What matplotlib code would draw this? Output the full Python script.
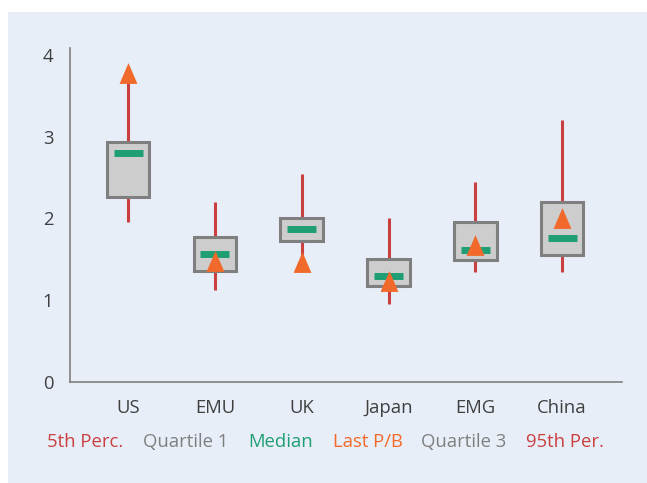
import matplotlib.pyplot as plt
from matplotlib.patches import Rectangle

plt.rcParams["font.family"] = ["Open Sans", "DejaVu Sans"]

regions = ["US", "EMU", "UK", "Japan", "EMG", "China"]
perc5 = [1.96, 1.12, 1.50, 0.95, 1.34, 1.34]
quartile1 = [2.26, 1.36, 1.72, 1.17, 1.49, 1.55]
median = [2.80, 1.57, 1.87, 1.30, 1.62, 1.76]
quartile3 = [2.94, 1.77, 2.01, 1.50, 1.96, 2.20]
perc95 = [3.78, 2.20, 2.55, 2.01, 2.45, 3.20]
last_pb = [3.78, 1.48, 1.47, 1.24, 1.68, 2.01]

legend_labels = ["5th Perc.", "Quartile 1", "Median", "Last P/B", "Quartile 3", "95th Per."]

red = "#C9403F"
gray = "#7F7F7F"
green = "#1F9E74"
orange = "#F26A2B"
bg = "#E8EEF8"

W, H = 647, 483
fig = plt.figure(figsize=(W / 100, H / 100), dpi=100)
fig.patches.append(Rectangle((8 / W, 0), 1 - 8 / W, 1 - 12 / H, transform=fig.transFigure,
                             facecolor=bg, edgecolor="none", zorder=-10))

ax = fig.add_axes([70 / W, 1 - 382 / H, 552 / W, 334 / H])
ax.set_facecolor("none")

x = list(range(len(regions)))
ax.vlines(x, perc5, perc95, color=red, lw=2.2, zorder=1)
heights = [q3 - q1 for q1, q3 in zip(quartile1, quartile3)]
ax.bar(x, heights, bottom=quartile1, width=0.49, facecolor="#CDCDCD",
       edgecolor=gray, lw=2.2, zorder=2)
ax.hlines(median, [i - 0.167 for i in x], [i + 0.167 for i in x], color=green,
          lw=5, capstyle="butt", zorder=3)
tri = [(-0.43, -0.5), (0.43, -0.5), (0, 0.5)]
ax.plot(x, last_pb, ls="none", marker=tri, ms=15, color=orange, mec="none", zorder=4)

ax.set_xlim(-0.67, 5.69)
ax.set_ylim(0, 4.085)
ax.set_yticks([0, 1, 2, 3, 4])
ax.set_xticks(x)
ax.set_xticklabels(regions)
ax.tick_params(length=0, labelsize=13.3, labelcolor="#404040")
ax.tick_params(axis="x", pad=12)
ax.tick_params(axis="y", pad=12)
for side in ["top", "right"]:
    ax.spines[side].set_visible(False)
for side in ["left", "bottom"]:
    ax.spines[side].set_color(gray)
    ax.spines[side].set_linewidth(1.2)

legend_x = [47, 143, 248, 333, 421, 526]
legend_colors = [red, gray, green, orange, gray, red]
for lx, lab, c in zip(legend_x, legend_labels, legend_colors):
    fig.text(lx / W, 1 - 442 / H, lab, color=c, fontsize=13.3, ha="left", va="center")

fig.savefig("out.png", dpi=100)
